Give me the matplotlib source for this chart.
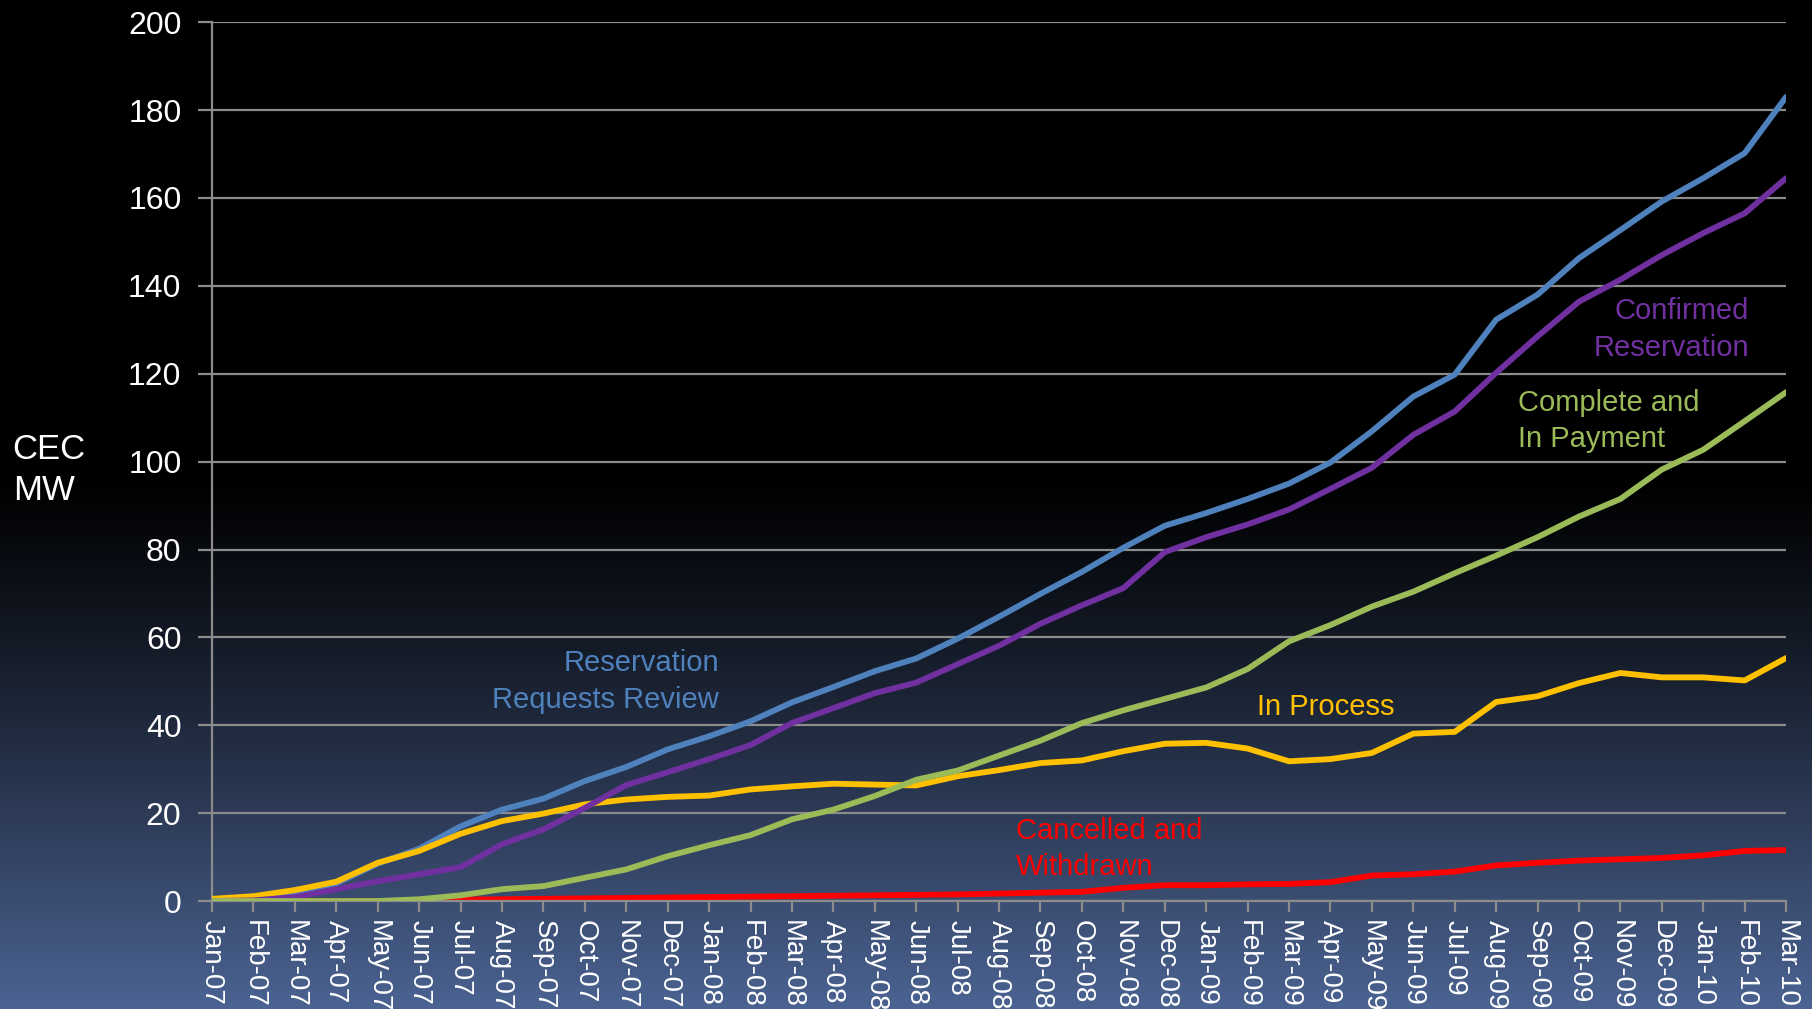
import numpy as np
import matplotlib
matplotlib.use("Agg")
import matplotlib.pyplot as plt
from matplotlib.colors import LinearSegmentedColormap

plt.rcParams['font.family'] = ['Liberation Sans', 'DejaVu Sans']

months = ["Jan-07", "Feb-07", "Mar-07", "Apr-07", "May-07", "Jun-07", "Jul-07", "Aug-07",
          "Sep-07", "Oct-07", "Nov-07", "Dec-07", "Jan-08", "Feb-08", "Mar-08", "Apr-08",
          "May-08", "Jun-08", "Jul-08", "Aug-08", "Sep-08", "Oct-08", "Nov-08", "Dec-08",
          "Jan-09", "Feb-09", "Mar-09", "Apr-09", "May-09", "Jun-09", "Jul-09", "Aug-09",
          "Sep-09", "Oct-09", "Nov-09", "Dec-09", "Jan-10", "Feb-10", "Mar-10"]

requests_review = [0, 0.5, 2, 4, 8.5, 11.9, 17.0, 20.8, 23.3, 27.3, 30.5, 34.5, 37.5, 40.9,
                   45.2, 48.7, 52.3, 55.2, 59.7, 64.7, 69.9, 74.9, 80.4, 85.4, 88.3, 91.5,
                   95.0, 99.8, 106.9, 114.8, 119.8, 132.3, 138.0, 146.3, 152.7, 159.2,
                   164.5, 170.2, 183.0]
confirmed = [0, 0.15, 0.9, 2.7, 4.5, 6.1, 7.7, 12.9, 16.3, 21.2, 26.4, 29.3, 32.3, 35.5,
             40.5, 43.9, 47.3, 49.7, 53.9, 58.1, 63.1, 67.3, 71.2, 79.4, 82.8, 85.7, 89.1,
             93.8, 98.6, 106.1, 111.4, 120.2, 128.5, 136.4, 141.4, 147.0, 152.0, 156.5, 164.5]
complete = [0, 0, 0, 0, 0, 0.4, 1.3, 2.7, 3.4, 5.3, 7.2, 10.2, 12.7, 15.0, 18.6, 20.8,
            23.9, 27.6, 29.7, 33.1, 36.5, 40.5, 43.4, 46.0, 48.6, 52.8, 59.1, 62.8, 67.0,
            70.4, 74.6, 78.6, 82.8, 87.5, 91.5, 98.2, 102.7, 109.2, 115.8]
in_process = [0.5, 1.1, 2.5, 4.4, 8.7, 11.4, 15.3, 18.2, 19.9, 22.0, 23.1, 23.7, 24.0, 25.4,
              26.1, 26.7, 26.5, 26.3, 28.4, 29.8, 31.4, 32.0, 34.1, 35.8, 36.0, 34.7, 31.8,
              32.3, 33.7, 38.1, 38.5, 45.3, 46.6, 49.6, 51.9, 50.9, 50.9, 50.2, 55.3]
cancelled = [0, 0, 0, 0, 0, 0.1, 0.3, 0.4, 0.5, 0.6, 0.7, 0.8, 0.9, 1.0, 1.1, 1.2, 1.3,
             1.4, 1.5, 1.7, 1.9, 2.1, 3.0, 3.6, 3.6, 3.8, 3.9, 4.3, 5.8, 6.1, 6.7, 8.1, 8.7,
             9.2, 9.5, 9.8, 10.4, 11.4, 11.6]

c_blue = "#4f81bd"
c_purple = "#7030a0"
c_green = "#9bbb59"
c_yellow = "#ffc000"
c_red = "#ff0000"

fig = plt.figure(figsize=(18.12, 10.09), dpi=100)

# background gradient: black at top, slate blue at bottom
bg = fig.add_axes([0, 0, 1, 1])
bg.set_axis_off()
t = np.linspace(0, 1, 500)
grad = np.clip((t - 0.47) / 0.53, 0, 1) ** 1.15
cmap = LinearSegmentedColormap.from_list("bg", ["#000000", "#4b6392"])
bg.imshow(grad[:, None], aspect="auto", cmap=cmap, extent=[0, 1, 1, 0], vmin=0, vmax=1)
bg.set_xlim(0, 1)
bg.set_ylim(1, 0)

ax = fig.add_axes([0.117, 0.107, 0.8687, 0.871])
ax.patch.set_alpha(0)
x = np.arange(len(months))
lw = 4.2
ax.plot(x, cancelled, color=c_red, lw=lw, zorder=2, solid_capstyle="round")
ax.plot(x, requests_review, color=c_blue, lw=lw, zorder=3, solid_capstyle="round")
ax.plot(x, in_process, color=c_yellow, lw=lw, zorder=4, solid_capstyle="round")
ax.plot(x, confirmed, color=c_purple, lw=lw, zorder=5, solid_capstyle="round")
ax.plot(x, complete, color=c_green, lw=lw, zorder=6, solid_capstyle="round")

ax.set_xlim(0, len(months) - 1)
ax.set_ylim(0, 200)
ax.set_yticks(range(0, 201, 20))
ax.set_xticks(x)
ax.set_xticklabels(months, rotation=270, ha="center", va="top")
ax.yaxis.grid(True, color="#8c8c8c", lw=1.6)
ax.set_axisbelow(True)
for s in ["top", "right"]:
    ax.spines[s].set_visible(False)
for s in ["left", "bottom"]:
    ax.spines[s].set_color("#8c8c8c")
    ax.spines[s].set_linewidth(1.6)
ax.tick_params(axis="y", colors="#8c8c8c", length=10, width=1.6, labelcolor="white",
               labelsize=23, pad=12)
ax.tick_params(axis="x", colors="#8c8c8c", length=8, width=1.6, labelcolor="white",
               labelsize=20, pad=6)

fig.text(0.007, 0.534, "CEC\nMW", color="white", fontsize=25, ha="left", va="center",
         linespacing=1.3)

lab = dict(fontsize=21, va="center", linespacing=1.38)
ax.text(12.24, 50.0, "Reservation\nRequests Review", color=c_blue, ha="right",
        multialignment="right", **lab)
ax.text(37.1, 130.1, "Confirmed\nReservation", color=c_purple, ha="right",
        multialignment="right", **lab)
ax.text(31.53, 109.2, "Complete and\nIn Payment", color=c_green, ha="left", **lab)
ax.text(25.23, 44.1, "In Process", color=c_yellow, ha="left", **lab)
ax.text(19.41, 11.8, "Cancelled and\nWithdrawn", color=c_red, ha="left", **lab)

fig.savefig("out.png", dpi=100)
